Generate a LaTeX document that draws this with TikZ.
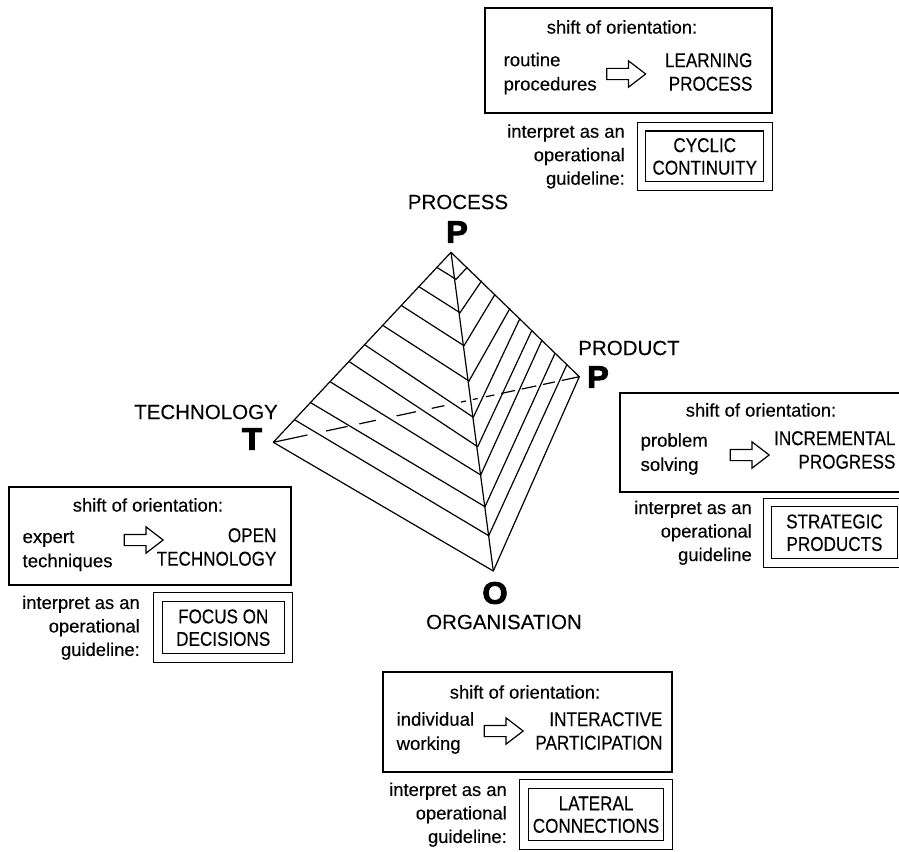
\documentclass[tikz,border=0pt]{standalone}
\usepackage{fontspec}
\setmainfont{Liberation Sans}[FakeBold=0.25]
\newfontfamily\capsfont{Liberation Sans}[FakeStretch=0.855,FakeBold=0.25]
\newfontfamily\apexfont{Liberation Sans}[FakeBold=0.15]
\newfontfamily\cornerfont{Liberation Sans Bold}[FakeBold=3,FakeStretch=1.05]
\usetikzlibrary{positioning}
\usetikzlibrary{shapes.arrows}

\begin{document}
\begin{tikzpicture}[x=1pt,y=-1pt,line width=1.2pt,
	txt/.style={inner sep=0pt,font=\fontsize{18.4}{23.5}\selectfont},
	lefttxt/.style={inner sep=0pt,align=left,anchor=west,font=\fontsize{18.6}{24.2}\selectfont},
	righttxt/.style={inner sep=0pt,align=right,anchor=east,font=\capsfont\fontsize{20}{23.5}\selectfont},
	apex/.style={inner sep=0pt,font=\apexfont\fontsize{20.5}{24}\selectfont},
	corner/.style={inner sep=0pt,font=\cornerfont\fontsize{31}{31}\selectfont},
	shiftbox/.style={rectangle,draw,line width=1.2pt,inner sep=0pt},
	guidebox/.style={rectangle,draw,double,double distance=7.5pt,line width=1.2pt,inner sep=0pt,align=center,
		font=\capsfont\fontsize{20}{22.5}\selectfont},
	shiftarrow/.style={single arrow,draw,line width=1.2pt,inner xsep=0pt,inner ysep=5pt,minimum height=39pt,
		single arrow head extend=7.5pt,single arrow tip angle=75}]
	\useasboundingbox (0,0) rectangle (899,851);

	% pyramid
	\coordinate (process) at (451,252.3);
	\coordinate (tech) at (273.3,442.3);
	\coordinate (orga) at (493.3,571);
	\coordinate (product) at (579.3,376.7);
	\draw[line join=round] (process) -- (tech) -- (orga) -- (product) -- cycle;
	\draw (process) -- (orga);
	\draw[dash pattern=on 35pt off 19pt on 22pt off 12pt on 17pt off 21pt on 20pt off 16pt on 13pt off 17pt on 5pt off 7pt on 5pt off 8.5pt on 8.5pt off 7pt on 14pt off 7pt on 15pt off 7pt on 12pt off 7pt on 30pt off 200pt] (tech) -- (product);

	\coordinate (l1) at (436.7,267.3); \coordinate (s1) at (456,279.3); \coordinate (r1) at (467.3,267.3);
	\coordinate (l2) at (419,286.7); \coordinate (s2) at (460,312.7); \coordinate (r2) at (481.7,280.7);
	\coordinate (l3) at (401.7,305.7); \coordinate (s3) at (464,345.7); \coordinate (r3) at (495,294.3);
	\coordinate (l4) at (383.3,325.7); \coordinate (s4) at (469,381); \coordinate (r4) at (510,308.3);
	\coordinate (l5) at (365,345); \coordinate (s5) at (473.3,417.3); \coordinate (r5) at (520,318.3);
	\coordinate (l6) at (349.3,361.7); \coordinate (s6) at (477.7,446.7); \coordinate (r6) at (531.7,330.7);
	\coordinate (l7) at (330,381.7); \coordinate (s7) at (480.7,475); \coordinate (r7) at (541.7,340.7);
	\coordinate (l8) at (310.7,402.7); \coordinate (s8) at (485,506.7); \coordinate (r8) at (555,353.3);
	\coordinate (l9) at (295,420); \coordinate (s9) at (488.7,535.7); \coordinate (r9) at (566.7,365);
	\draw (l1) -- (s1) -- (r1);
	\draw (l2) -- (s2) -- (r2);
	\draw (l3) -- (s3) -- (r3);
	\draw (l4) -- (s4) -- (r4);
	\draw (l5) -- (s5) -- (r5);
	\draw (l6) -- (s6) -- (r6);
	\draw (l7) -- (s7) -- (r7);
	\draw (l8) -- (s8) -- (r8);
	\draw (l9) -- (s9) -- (r9);

	\node[corner] (process-p) at (457,232) {P};
	\node[apex] (process-name) at (458,202) {PROCESS};
	\node[corner] (product-p) at (598,377) {P};
	\node[apex] (product-name) at (629,348) {PRODUCT};
	\node[corner] (tech-t) at (252,439) {T};
	\node[apex] (tech-name) at (206,412) {TECHNOLOGY};
	\node[corner] (orga-o) at (495,593) {O};
	\node[apex] (orga-name) at (504,622) {ORGANISATION};

	% process panel
	\node[shiftbox,minimum width=287pt,minimum height=105pt] (proc-shift) at (628.5,60.5) {};
	\node[txt] (proc-head) at (622,27) {shift of orientation:};
	\node[lefttxt] (proc-from) at (503,73.5) {routine\\procedures};
	\node[shiftarrow] (proc-arrow) at (622.5,74) {};
	\node[righttxt] (proc-to) at (753,72) {LEARNING\\PROCESS};
	\node[guidebox,minimum width=126.5pt,minimum height=59.5pt] (proc-guide) [below left=12.5pt and 4pt of proc-shift.south east] {CYCLIC\\CONTINUITY};
	\node[txt,align=right] (proc-note) [left=15.5pt of proc-guide] {interpret as an\\operational\\guideline:};

	% product panel
	\node[shiftbox,minimum width=290pt,minimum height=99pt] (prod-shift) at (765,442.5) {};
	\node[txt] (prod-head) at (761,410) {shift of orientation:};
	\node[lefttxt] (prod-from) at (640,454) {problem\\solving};
	\node[shiftarrow] (prod-arrow) at (746,455) {};
	\node[righttxt] (prod-to) at (896,450) {INCREMENTAL\\PROGRESS};
	\node[guidebox,minimum width=134pt,minimum height=60.5pt] (prod-guide) at (834.5,532.75) {STRATEGIC\\PRODUCTS};
	\node[txt,align=right] (prod-note) [left=14.5pt of prod-guide] {interpret as an\\operational\\guideline};

	% technology panel
	\node[shiftbox,minimum width=282pt,minimum height=98pt] (tech-shift) at (150,536) {};
	\node[txt] (tech-head) at (148,505) {shift of orientation:};
	\node[lefttxt] (tech-from) at (22,551) {expert\\techniques};
	\node[shiftarrow] (tech-arrow) at (140,540) {};
	\node[righttxt] (tech-to) at (277,547) {OPEN\\TECHNOLOGY};
	\node[guidebox,minimum width=130.5pt,minimum height=61pt] (tech-guide) [below left=11pt and 2.5pt of tech-shift.south east] {FOCUS ON\\DECISIONS};
	\node[txt,align=right] (tech-note) [left=17pt of tech-guide] {interpret as an\\operational\\guideline:};

	% organisation panel
	\node[shiftbox,minimum width=289pt,minimum height=100pt] (orga-shift) at (527.5,722) {};
	\node[txt] (orga-head) at (525,692) {shift of orientation:};
	\node[lefttxt] (orga-from) at (396,733) {individual\\working};
	\node[shiftarrow] (orga-arrow) at (500,731) {};
	\node[righttxt] (orga-to) at (663,731) {INTERACTIVE\\PARTICIPATION};
	\node[guidebox,minimum width=144pt,minimum height=61pt] (orga-guide) [below left=11pt and 4pt of orga-shift.south east] {LATERAL\\CONNECTIONS};
	\node[txt,align=right] (orga-note) [left=16pt of orga-guide] {interpret as an\\operational\\guideline:};
\end{tikzpicture}
\end{document}
